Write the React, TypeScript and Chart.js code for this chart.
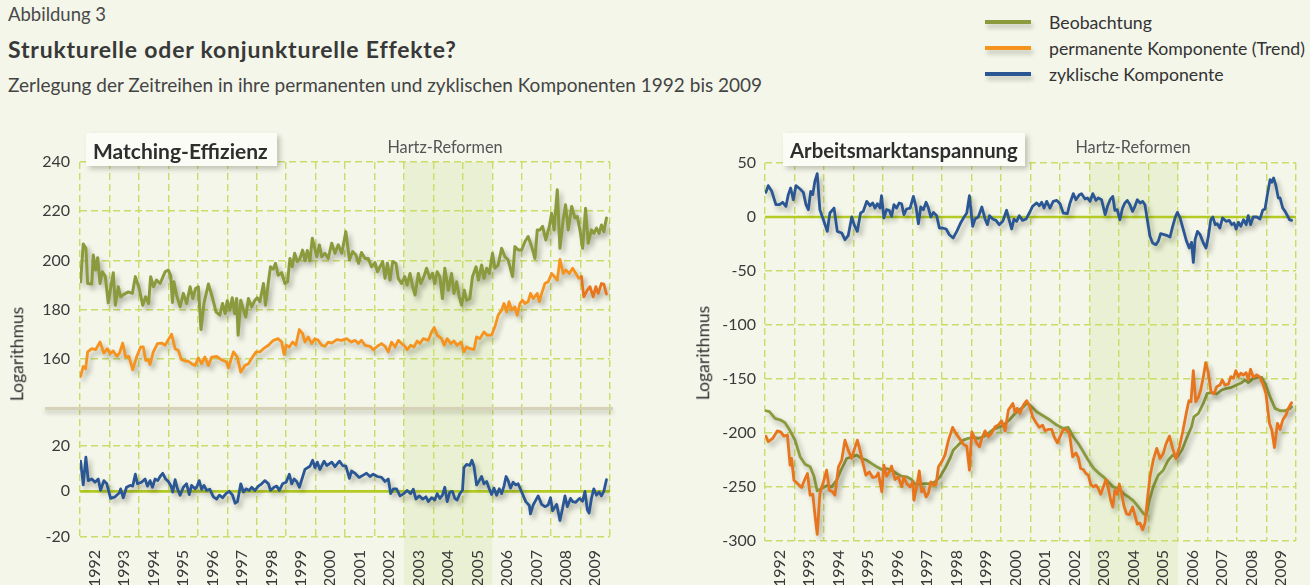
import React, { useEffect, useRef } from "react";
import { Chart, registerables } from "chart.js";

Chart.register(...registerables);

// ---------------- data ----------------
const YEAR_LABELS = ["1992", "1993", "1994", "1995", "1996", "1997", "1998", "1999", "2000", "2001", "2002", "2003", "2004", "2005", "2006", "2007", "2008", "2009"];
const HARTZ_START = 2003;
const HARTZ_END = 2006;

const LEGEND_LABELS = ["Beobachtung", "permanente Komponente (Trend)", "zyklische Komponente"];

// Matching-Effizienz: Beobachtung
const matchObsYears = [
  1992.02, 1992.11, 1992.20, 1992.26, 1992.40, 1992.45, 1992.53, 1992.60, 1992.68, 1992.76,
  1992.86, 1992.96, 1993.05, 1993.13, 1993.20, 1993.30, 1993.38, 1993.49, 1993.64, 1993.78,
  1993.88, 1994.01, 1994.13, 1994.23, 1994.33, 1994.40, 1994.49, 1994.60, 1994.72, 1994.81,
  1994.89, 1995.00, 1995.08, 1995.14, 1995.19, 1995.28, 1995.40, 1995.51, 1995.62, 1995.74,
  1995.83, 1995.93, 1996.02, 1996.11, 1996.21, 1996.36, 1996.49, 1996.62, 1996.75, 1996.84,
  1996.93, 1997.00, 1997.09, 1997.17, 1997.25, 1997.32, 1997.37, 1997.46, 1997.55, 1997.63,
  1997.72, 1997.83, 1997.94, 1998.02, 1998.11, 1998.23, 1998.30, 1998.40, 1998.47, 1998.56,
  1998.64, 1998.73, 1998.85, 1998.96, 1999.05, 1999.13, 1999.21, 1999.29, 1999.38, 1999.47,
  1999.56, 1999.64, 1999.72, 1999.81, 1999.89, 2000.04, 2000.13, 2000.21, 2000.32, 2000.43,
  2000.55, 2000.66, 2000.77, 2000.89, 2001.03, 2001.15, 2001.26, 2001.37, 2001.46, 2001.56,
  2001.68, 2001.79, 2001.90, 2002.02, 2002.10, 2002.19, 2002.28, 2002.36, 2002.44, 2002.53,
  2002.62, 2002.73, 2002.81, 2002.92, 2003.03, 2003.11, 2003.21, 2003.30, 2003.38, 2003.49,
  2003.57, 2003.68, 2003.77, 2003.88, 2003.97, 2004.05, 2004.13, 2004.22, 2004.31, 2004.39,
  2004.51, 2004.62, 2004.70, 2004.79, 2004.88, 2004.96, 2005.05, 2005.13, 2005.24, 2005.33,
  2005.45, 2005.53, 2005.64, 2005.72, 2005.81, 2005.90, 2006.01, 2006.09, 2006.20, 2006.32,
  2006.43, 2006.54, 2006.69, 2006.77, 2006.88, 2007.00, 2007.11, 2007.22, 2007.34, 2007.45,
  2007.53, 2007.62, 2007.71, 2007.82, 2007.94, 2008.02, 2008.10, 2008.21, 2008.30, 2008.41,
  2008.49, 2008.58, 2008.70, 2008.81, 2008.89, 2008.98, 2009.07, 2009.17, 2009.26, 2009.37,
  2009.45, 2009.54, 2009.63, 2009.71, 2009.79, 2009.88,
];
const matchObsValues = [
  191.3, 206.7, 204.9, 190.6, 190.4, 202.2, 196.1, 201.1, 190.6, 195.4,
  193.4, 182.7, 189.3, 195.0, 181.8, 189.3, 185.2, 186.2, 187.2, 186.6,
  193.4, 188.6, 181.8, 185.2, 182.5, 193.4, 189.3, 192.0, 190.6, 193.1,
  195.4, 196.1, 193.8, 182.9, 191.3, 185.9, 181.1, 186.6, 182.5, 189.3,
  184.5, 188.6, 189.3, 171.9, 182.5, 190.4, 185.2, 179.1, 177.7, 182.5,
  178.4, 183.6, 179.8, 184.8, 178.4, 184.5, 169.6, 183.8, 179.8, 177.0,
  184.5, 181.1, 183.8, 184.8, 183.2, 190.6, 181.8, 191.3, 197.4, 196.4,
  198.8, 194.0, 195.0, 190.6, 191.3, 200.8, 197.4, 202.9, 199.5, 200.8,
  204.2, 199.9, 204.0, 199.8, 209.0, 201.5, 206.3, 201.5, 202.9, 200.8,
  207.0, 202.9, 206.3, 202.9, 211.7, 200.2, 203.6, 202.2, 198.8, 203.2,
  200.8, 200.8, 197.4, 199.1, 195.4, 197.4, 199.5, 192.7, 198.8, 192.0,
  199.5, 198.8, 192.7, 190.6, 193.4, 190.0, 194.7, 189.3, 185.9, 194.7,
  190.6, 193.4, 196.8, 192.7, 194.7, 190.6, 195.4, 193.4, 184.5, 196.8,
  187.9, 194.7, 186.6, 191.3, 185.2, 181.8, 187.9, 183.8, 184.5, 193.4,
  197.4, 192.0, 198.1, 192.7, 196.8, 194.7, 202.9, 196.8, 198.1, 204.9,
  201.5, 200.2, 193.4, 205.6, 204.2, 204.2, 207.6, 209.7, 205.6, 200.8,
  212.4, 212.4, 213.8, 208.3, 213.8, 219.2, 212.4, 228.7, 204.9, 216.5,
  222.6, 212.4, 221.9, 217.2, 217.8, 212.4, 204.9, 221.2, 207.0, 212.4,
  211.0, 213.1, 211.0, 214.4, 211.7, 217.2,
];

// Matching-Effizienz: permanente Komponente
const matchTrendYears = [
  1992.02, 1992.11, 1992.19, 1992.26, 1992.40, 1992.53, 1992.68, 1992.81, 1992.93, 1993.02,
  1993.13, 1993.25, 1993.34, 1993.45, 1993.55, 1993.66, 1993.79, 1993.92, 1994.06, 1994.15,
  1994.23, 1994.32, 1994.38, 1994.49, 1994.63, 1994.77, 1994.89, 1995.00, 1995.11, 1995.23,
  1995.34, 1995.45, 1995.57, 1995.68, 1995.79, 1995.91, 1996.02, 1996.13, 1996.24, 1996.36,
  1996.47, 1996.64, 1996.81, 1996.98, 1997.04, 1997.21, 1997.34, 1997.46, 1997.60, 1997.72,
  1997.86, 1997.98, 1998.11, 1998.23, 1998.40, 1998.57, 1998.73, 1998.85, 1998.93, 1999.00,
  1999.11, 1999.22, 1999.33, 1999.45, 1999.56, 1999.64, 1999.75, 1999.87, 1999.98, 2000.09,
  2000.21, 2000.32, 2000.43, 2000.55, 2000.72, 2000.89, 2001.05, 2001.22, 2001.34, 2001.45,
  2001.56, 2001.68, 2001.85, 2001.96, 2002.10, 2002.24, 2002.36, 2002.47, 2002.58, 2002.70,
  2002.81, 2002.92, 2003.03, 2003.11, 2003.23, 2003.34, 2003.45, 2003.54, 2003.66, 2003.83,
  2003.94, 2004.03, 2004.13, 2004.28, 2004.37, 2004.47, 2004.59, 2004.70, 2004.81, 2004.94,
  2005.04, 2005.13, 2005.24, 2005.38, 2005.47, 2005.58, 2005.72, 2005.83, 2005.98, 2006.09,
  2006.20, 2006.32, 2006.40, 2006.49, 2006.57, 2006.66, 2006.77, 2006.85, 2006.94, 2007.03,
  2007.11, 2007.22, 2007.30, 2007.39, 2007.53, 2007.60, 2007.68, 2007.79, 2007.90, 2008.02,
  2008.11, 2008.21, 2008.30, 2008.41, 2008.50, 2008.62, 2008.73, 2008.84, 2008.94, 2009.03,
  2009.11, 2009.23, 2009.32, 2009.43, 2009.52, 2009.60, 2009.71, 2009.79, 2009.88,
];
const matchTrendValues = [
  152.8, 156.9, 155.9, 162.8, 164.1, 163.7, 166.8, 162.3, 164.1, 162.1,
  163.2, 161.0, 162.3, 166.4, 160.7, 161.0, 155.5, 160.7, 164.8, 164.8,
  159.4, 159.6, 157.7, 162.8, 166.2, 166.4, 165.5, 167.8, 170.0, 164.1,
  163.4, 159.6, 159.1, 159.0, 158.0, 157.3, 160.4, 158.0, 160.7, 157.3,
  160.7, 161.0, 159.6, 158.7, 156.2, 162.8, 160.7, 154.6, 157.3, 158.0,
  160.7, 162.8, 162.8, 164.1, 165.5, 167.5, 168.2, 166.8, 161.8, 165.5,
  164.8, 166.8, 165.5, 171.9, 170.2, 166.8, 168.9, 166.2, 168.2, 167.5,
  165.5, 165.1, 166.8, 166.4, 167.8, 167.5, 168.2, 166.8, 167.5, 166.2,
  167.5, 165.5, 165.1, 163.7, 165.1, 166.2, 165.1, 162.8, 166.8, 164.8,
  167.5, 166.2, 165.1, 163.7, 165.5, 164.8, 167.2, 166.2, 168.2, 167.5,
  170.9, 172.7, 169.6, 168.2, 165.5, 168.2, 166.2, 167.2, 165.5, 166.8,
  162.8, 164.8, 164.1, 163.7, 168.9, 168.2, 170.9, 169.6, 169.6, 173.0,
  177.7, 179.8, 182.5, 179.1, 183.2, 179.8, 181.1, 177.7, 182.5, 183.8,
  182.5, 183.2, 186.6, 184.5, 186.6, 183.2, 186.6, 190.6, 191.3, 194.7,
  193.4, 192.0, 200.4, 194.7, 196.1, 194.7, 196.8, 194.7, 192.7, 193.4,
  185.2, 187.9, 189.3, 185.2, 189.3, 186.6, 190.6, 190.4, 186.3,
];

// Matching-Effizienz: zyklische Komponente
const matchCycleYears = [
  1992.02, 1992.11, 1992.20, 1992.28, 1992.40, 1992.51, 1992.62, 1992.70, 1992.81, 1992.91,
  1993.04, 1993.19, 1993.34, 1993.38, 1993.47, 1993.58, 1993.70, 1993.79, 1993.88, 1993.95,
  1994.09, 1994.21, 1994.29, 1994.38, 1994.46, 1994.55, 1994.64, 1994.72, 1994.81, 1994.91,
  1995.00, 1995.08, 1995.15, 1995.23, 1995.31, 1995.40, 1995.51, 1995.62, 1995.71, 1995.79,
  1995.91, 1995.98, 1996.05, 1996.13, 1996.21, 1996.30, 1996.41, 1996.53, 1996.64, 1996.73,
  1996.84, 1996.96, 1997.07, 1997.18, 1997.27, 1997.35, 1997.46, 1997.55, 1997.64, 1997.75,
  1997.83, 1997.94, 1998.06, 1998.17, 1998.28, 1998.40, 1998.47, 1998.59, 1998.68, 1998.77,
  1998.88, 1999.00, 1999.11, 1999.19, 1999.27, 1999.36, 1999.45, 1999.64, 1999.81, 1999.90,
  1999.98, 2000.06, 2000.15, 2000.29, 2000.38, 2000.55, 2000.66, 2000.81, 2000.92, 2001.03,
  2001.15, 2001.22, 2001.34, 2001.48, 2001.62, 2001.73, 2001.85, 2001.96, 2002.10, 2002.24,
  2002.36, 2002.47, 2002.55, 2002.64, 2002.75, 2002.87, 2003.00, 2003.11, 2003.23, 2003.32,
  2003.41, 2003.52, 2003.64, 2003.75, 2003.83, 2003.94, 2004.05, 2004.13, 2004.22, 2004.31,
  2004.39, 2004.47, 2004.56, 2004.65, 2004.73, 2004.81, 2004.90, 2004.99, 2005.04, 2005.13,
  2005.24, 2005.31, 2005.38, 2005.47, 2005.56, 2005.64, 2005.72, 2005.81, 2005.90, 2005.98,
  2006.06, 2006.15, 2006.24, 2006.32, 2006.40, 2006.47, 2006.54, 2006.62, 2006.71, 2006.80,
  2006.88, 2007.00, 2007.14, 2007.26, 2007.30, 2007.39, 2007.56, 2007.68, 2007.79, 2007.90,
  2007.98, 2008.05, 2008.19, 2008.30, 2008.39, 2008.47, 2008.55, 2008.66, 2008.73, 2008.84,
  2008.96, 2009.07, 2009.15, 2009.23, 2009.29, 2009.37, 2009.45, 2009.54, 2009.63, 2009.71,
  2009.79, 2009.88,
];
const matchCycleValues = [
  13.2, 2.8, 15.0, 4.7, 5.4, 4.0, 5.4, 0.4, 4.7, 3.3,
  -3.1, -2.4, -0.6, 1.1, -2.8, 1.8, 2.6, 2.3, 7.5, 3.3,
  4.0, 5.4, 2.3, 4.7, 1.8, 5.4, 4.7, 6.5, 7.9, 5.4,
  4.3, 2.6, -0.3, 5.1, 1.1, -1.7, 1.8, 3.3, -1.4, 2.6,
  1.1, 2.3, 4.7, 0.9, 2.6, 0.4, 0.9, -2.4, -3.4, -1.7,
  -2.8, -1.0, 0.0, -1.7, -5.2, -4.5, 3.3, -0.3, 1.1, 0.4,
  1.8, 0.4, 2.3, 3.3, 4.7, 3.3, 0.4, 1.8, 2.3, 0.4,
  3.3, 4.0, 7.5, 3.3, 5.4, 4.3, 1.8, 9.6, 11.0, 13.6,
  10.4, 12.8, 9.6, 13.2, 11.3, 12.8, 10.8, 13.2, 11.3, 11.0,
  5.7, 8.9, 7.9, 6.1, 7.1, 7.9, 6.5, 7.5, 6.5, 6.1,
  4.3, 5.4, -1.0, 1.1, 1.1, -2.0, -1.0, 0.4, -1.0, 0.9,
  -3.4, -2.0, -3.4, -2.4, -4.5, -2.8, -3.8, -1.0, -3.1, -1.7,
  1.8, -4.5, -0.3, 0.0, -3.1, -3.8, -1.0, 0.4, 10.4, 11.8,
  11.3, 13.6, 11.0, 2.8, 4.7, 6.5, 3.3, 4.3, 1.1, -1.4,
  1.4, -1.7, 1.1, -1.0, 2.3, 6.5, 4.7, 1.4, 4.0, 2.8,
  3.3, -0.3, -4.5, -6.2, -9.9, -6.0, -2.0, -5.7, -6.7, -6.0,
  -2.8, -8.5, -5.7, -12.8, -7.4, -2.0, -6.7, -3.1, -4.5, -4.8,
  -3.1, -4.3, 0.0, -8.1, -9.5, -3.1, 1.1, -1.7, -0.3, -2.0,
  0.0, 5.1,
];

// Arbeitsmarktanspannung: Beobachtung
const tensionObsYears = [
  1992.03, 1992.15, 1992.34, 1992.53, 1992.68, 1992.85, 1993.02, 1993.19, 1993.36, 1993.53,
  1993.66, 1993.77, 1993.92, 1994.09, 1994.26, 1994.43, 1994.60, 1994.77, 1994.94, 1995.11,
  1995.28, 1995.45, 1995.62, 1995.79, 1995.96, 1996.12, 1996.29, 1996.46, 1996.63, 1996.80,
  1996.97, 1997.09, 1997.26, 1997.42, 1997.59, 1997.76, 1997.93, 1998.10, 1998.27, 1998.38,
  1998.55, 1998.72, 1998.89, 1999.06, 1999.23, 1999.40, 1999.57, 1999.74, 1999.91, 2000.08,
  2000.28, 2000.53, 2000.76, 2000.89, 2001.04, 2001.21, 2001.44, 2001.66, 2001.89, 2002.11,
  2002.28, 2002.45, 2002.62, 2002.79, 2002.96, 2003.13, 2003.30, 2003.47, 2003.64, 2003.81,
  2003.98, 2004.15, 2004.32, 2004.49, 2004.66, 2004.83, 2004.92, 2005.03, 2005.16, 2005.33,
  2005.50, 2005.67, 2005.82, 2005.96, 2006.13, 2006.29, 2006.46, 2006.54, 2006.69, 2006.86,
  2006.99, 2007.14, 2007.31, 2007.48, 2007.65, 2007.82, 2007.99, 2008.16, 2008.27, 2008.38,
  2008.55, 2008.72, 2008.84, 2008.95, 2009.12, 2009.29, 2009.46, 2009.63, 2009.80, 2009.85,
];
const tensionObsValues = [
  -179.4, -180.3, -186.5, -188.0, -190.5, -198.0, -206.6, -222.0, -228.9, -231.3,
  -240.0, -253.6, -251.4, -248.7, -249.9, -243.7, -232.9, -223.6, -222.1, -220.5,
  -223.6, -225.2, -228.3, -231.3, -233.8, -232.9, -234.4, -237.5, -240.0, -240.6,
  -243.1, -247.4, -247.4, -246.8, -246.8, -245.3, -240.6, -232.9, -223.6, -215.9,
  -211.2, -206.6, -205.0, -204.1, -205.0, -203.5, -200.4, -196.7, -194.8, -192.7,
  -188.0, -180.3, -175.7, -172.0, -175.7, -180.3, -184.3, -188.0, -192.7, -195.8,
  -194.8, -203.5, -209.7, -217.4, -225.2, -232.3, -236.9, -240.6, -245.3, -249.9,
  -251.4, -256.1, -259.2, -262.9, -268.5, -274.6, -276.2, -262.3, -249.9, -239.1,
  -234.4, -225.2, -220.5, -222.7, -215.9, -205.0, -194.2, -185.0, -181.9, -172.6,
  -163.3, -162.7, -163.9, -160.2, -158.7, -157.7, -155.6, -153.4, -150.9, -153.4,
  -149.4, -148.5, -148.5, -154.0, -166.4, -177.2, -179.4, -179.4, -177.2, -175.7,
];

// Arbeitsmarktanspannung: permanente Komponente
const tensionTrendYears = [
  1992.03, 1992.11, 1992.26, 1992.42, 1992.53, 1992.64, 1992.76, 1992.85, 1992.90, 1992.98,
  1993.10, 1993.24, 1993.36, 1993.44, 1993.53, 1993.62, 1993.70, 1993.77, 1993.86, 1993.98,
  1994.09, 1994.18, 1994.29, 1994.37, 1994.49, 1994.60, 1994.71, 1994.82, 1994.94, 1995.02,
  1995.13, 1995.22, 1995.31, 1995.42, 1995.54, 1995.65, 1995.76, 1995.84, 1995.96, 1996.03,
  1996.12, 1996.21, 1996.29, 1996.41, 1996.52, 1996.63, 1996.71, 1996.80, 1996.92, 1997.01,
  1997.05, 1997.14, 1997.23, 1997.31, 1997.37, 1997.46, 1997.54, 1997.62, 1997.71, 1997.80,
  1997.88, 1997.99, 1998.10, 1998.22, 1998.36, 1998.47, 1998.59, 1998.72, 1998.84, 1998.93,
  1999.01, 1999.09, 1999.18, 1999.27, 1999.35, 1999.46, 1999.57, 1999.68, 1999.80, 1999.91,
  2000.02, 2000.14, 2000.25, 2000.40, 2000.48, 2000.55, 2000.64, 2000.76, 2000.87, 2000.98,
  2001.07, 2001.19, 2001.30, 2001.41, 2001.49, 2001.60, 2001.72, 2001.80, 2001.91, 2002.00,
  2002.11, 2002.23, 2002.32, 2002.43, 2002.54, 2002.62, 2002.70, 2002.79, 2002.88, 2002.96,
  2003.04, 2003.13, 2003.22, 2003.30, 2003.38, 2003.47, 2003.56, 2003.64, 2003.72, 2003.79,
  2003.86, 2003.94, 2004.01, 2004.09, 2004.17, 2004.26, 2004.35, 2004.46, 2004.54, 2004.62,
  2004.71, 2004.80, 2004.88, 2004.96, 2005.05, 2005.16, 2005.28, 2005.39, 2005.50, 2005.59,
  2005.71, 2005.82, 2005.93, 2006.05, 2006.16, 2006.29, 2006.37, 2006.44, 2006.52, 2006.60,
  2006.69, 2006.77, 2006.86, 2006.94, 2007.03, 2007.12, 2007.22, 2007.31, 2007.42, 2007.50,
  2007.59, 2007.71, 2007.79, 2007.88, 2007.96, 2008.05, 2008.13, 2008.22, 2008.31, 2008.38,
  2008.46, 2008.55, 2008.67, 2008.76, 2008.87, 2008.98, 2009.10, 2009.18, 2009.27, 2009.37,
  2009.46, 2009.55, 2009.66, 2009.74, 2009.85,
];
const tensionTrendValues = [
  -202.9, -208.1, -205.0, -198.0, -198.9, -202.9, -202.0, -229.8, -223.6, -243.7,
  -246.8, -250.5, -242.2, -237.5, -257.6, -256.7, -277.7, -293.8, -256.1, -245.3,
  -234.4, -253.0, -254.5, -257.6, -231.3, -225.2, -206.6, -215.9, -223.6, -215.9,
  -206.6, -215.9, -226.7, -239.1, -236.0, -241.2, -240.6, -236.9, -254.5, -229.8,
  -240.0, -236.0, -230.7, -243.1, -240.6, -249.9, -240.6, -246.8, -249.9, -245.3,
  -262.3, -249.9, -235.0, -254.5, -251.4, -259.2, -255.5, -245.3, -248.4, -247.4,
  -231.3, -226.7, -220.5, -206.6, -194.8, -200.4, -205.0, -210.3, -212.2, -234.4,
  -198.9, -203.5, -209.7, -212.8, -205.0, -198.0, -203.5, -200.4, -194.2, -192.7,
  -188.7, -198.0, -178.8, -172.6, -181.2, -177.2, -181.9, -174.1, -170.1, -175.7,
  -184.9, -190.5, -194.8, -192.7, -198.0, -196.7, -196.7, -203.5, -209.1, -203.5,
  -196.7, -197.3, -200.4, -222.1, -218.4, -222.7, -232.9, -233.8, -237.5, -239.1,
  -247.4, -249.9, -248.4, -251.4, -256.7, -249.9, -243.1, -251.4, -262.3, -268.5,
  -253.0, -256.7, -247.4, -256.1, -267.9, -275.0, -275.6, -268.5, -276.3, -284.3,
  -283.4, -289.6, -283.4, -262.3, -240.6, -225.2, -214.3, -223.6, -219.0, -210.3,
  -202.9, -214.3, -223.6, -212.8, -198.9, -180.3, -170.1, -171.0, -142.3, -171.0,
  -167.0, -160.2, -147.8, -134.8, -144.7, -161.8, -163.9, -157.1, -155.6, -150.9,
  -155.6, -154.6, -147.8, -149.4, -142.3, -147.8, -144.7, -146.3, -144.1, -150.3,
  -141.0, -148.5, -146.3, -147.8, -154.0, -163.3, -191.1, -197.3, -213.4, -191.1,
  -196.7, -188.0, -183.4, -177.2, -172.0,
];

// Arbeitsmarktanspannung: zyklische Komponente
const tensionCycleYears = [
  1992.03, 1992.11, 1992.23, 1992.37, 1992.49, 1992.60, 1992.71, 1992.79, 1992.87, 1992.96,
  1993.05, 1993.19, 1993.30, 1993.39, 1993.47, 1993.55, 1993.62, 1993.69, 1993.77, 1993.86,
  1993.98, 1994.11, 1994.20, 1994.34, 1994.45, 1994.60, 1994.71, 1994.82, 1994.94, 1995.02,
  1995.13, 1995.24, 1995.33, 1995.45, 1995.56, 1995.65, 1995.73, 1995.81, 1995.90, 1995.95,
  1996.03, 1996.12, 1996.21, 1996.29, 1996.37, 1996.46, 1996.55, 1996.63, 1996.71, 1996.80,
  1996.92, 1997.03, 1997.12, 1997.20, 1997.28, 1997.37, 1997.46, 1997.54, 1997.62, 1997.71,
  1997.82, 1997.91, 1998.02, 1998.14, 1998.25, 1998.38, 1998.50, 1998.63, 1998.75, 1998.84,
  1998.93, 1999.04, 1999.12, 1999.23, 1999.35, 1999.46, 1999.54, 1999.61, 1999.72, 1999.83,
  1999.94, 2000.06, 2000.19, 2000.28, 2000.36, 2000.44, 2000.53, 2000.62, 2000.73, 2000.85,
  2000.96, 2001.07, 2001.21, 2001.30, 2001.38, 2001.46, 2001.55, 2001.66, 2001.77, 2001.89,
  2002.00, 2002.11, 2002.25, 2002.34, 2002.45, 2002.54, 2002.66, 2002.73, 2002.85, 2002.93,
  2003.02, 2003.11, 2003.22, 2003.30, 2003.41, 2003.53, 2003.61, 2003.70, 2003.79, 2003.86,
  2003.94, 2004.03, 2004.12, 2004.20, 2004.28, 2004.37, 2004.46, 2004.54, 2004.62, 2004.71,
  2004.80, 2004.88, 2004.96, 2005.05, 2005.14, 2005.25, 2005.33, 2005.41, 2005.53, 2005.64,
  2005.73, 2005.82, 2005.91, 2005.98, 2006.07, 2006.18, 2006.29, 2006.38, 2006.46, 2006.52,
  2006.58, 2006.66, 2006.75, 2006.86, 2006.95, 2007.03, 2007.11, 2007.18, 2007.26, 2007.33,
  2007.42, 2007.51, 2007.63, 2007.74, 2007.82, 2007.90, 2007.97, 2008.05, 2008.13, 2008.22,
  2008.31, 2008.38, 2008.46, 2008.55, 2008.67, 2008.78, 2008.87, 2008.95, 2009.03, 2009.12,
  2009.18, 2009.24, 2009.32, 2009.40, 2009.46, 2009.55, 2009.63, 2009.71, 2009.78, 2009.85,
];
const tensionCycleValues = [
  22.8, 29.0, 23.8, 11.4, 11.4, 13.6, 9.9, 20.7, 26.8, 16.0,
  29.0, 25.9, 22.8, 11.4, 6.8, 23.8, 20.7, 33.0, 40.1, 6.8,
  -2.5, -13.3, 3.7, 8.3, -13.3, -14.8, -21.0, -17.3, 0.0, -7.1,
  -13.3, 3.7, 5.2, 14.5, 10.5, 13.0, 8.3, 12.3, 8.3, 19.8,
  -0.9, 6.8, 6.2, 0.6, 11.4, 8.3, 13.0, 12.3, 2.2, 7.4,
  8.3, 19.1, 9.3, -6.2, 9.3, 6.8, 13.6, 8.3, 0.0, 4.3,
  1.2, -10.2, -10.2, -11.1, -16.4, -19.4, -13.3, -5.6, 0.0, 3.7,
  19.8, -8.6, -1.9, 0.0, 9.3, -1.9, -7.1, 1.2, -1.9, -3.1,
  -7.1, -4.0, 6.2, -3.1, -11.1, -1.9, -4.0, 1.2, -3.1, -1.9,
  3.7, 9.9, 13.0, 10.5, 13.6, 8.3, 14.5, 8.3, 14.5, 15.4,
  12.3, 3.7, 3.1, 13.0, 21.6, 16.0, 20.7, 21.6, 16.7, 17.6,
  14.5, 21.6, 15.4, 17.6, 16.0, 2.2, 9.9, 16.0, 19.1, 6.2,
  6.8, -2.5, 8.3, 13.0, 15.4, 11.4, 5.2, 9.9, 16.0, 13.0,
  14.5, 11.4, -2.5, -17.9, -24.1, -25.6, -22.5, -15.4, -16.4, -17.3,
  -18.5, -8.6, 0.0, 4.3, -0.9, -11.7, -22.5, -28.7, -23.5, -42.0,
  -21.0, -13.3, -16.4, -24.1, -28.7, -17.9, -2.5, 0.0, -7.1, -6.2,
  -10.2, -0.9, -4.0, -3.1, -7.1, -5.6, -11.1, -4.9, -8.6, -2.5,
  -7.1, 1.2, -7.1, 0.0, 0.0, -1.9, 6.2, 7.4, 20.7, 34.6,
  32.1, 36.1, 29.0, 17.6, 17.6, 8.3, 5.2, 1.2, -2.5, -3.1,
];

// axis ticks
const MATCH_TOP_TICKS = [140, 160, 180, 200, 220, 240];
const MATCH_BOTTOM_TICKS = [-20, 0, 20];
const TENSION_TICKS = [-300, -250, -200, -150, -100, -50, 0, 50];

// ---------------- styling ----------------
const FONT = "Lato, 'Open Sans', 'DejaVu Sans', sans-serif";
const BG = "#f4f6ea";
const GRID = "#cbdc68";
const ZERO = "#b3cb22";
const SHADE = "#e9f0d3";
const TXT = "#3a3a3a";
const GREEN = "#8b9a3c";
const ORANGE = "#f6931f";
const ORANGE_DARK = "#e8751d";
const BLUE = "#2a5794";

const pts = (xs: number[], ys: number[]) => xs.map((x, i) => ({ x, y: ys[i] }));

const zeroPads = (s: any) => {
  s.paddingLeft = 0;
  s.paddingRight = 0;
  s.paddingTop = 0;
  s.paddingBottom = 0;
};

function xScale(showLabels: boolean, height: number, labelPad: number) {
  return {
    type: "linear",
    min: 1992,
    max: 2010,
    afterBuildTicks: (s: any) => {
      s.ticks = YEAR_LABELS.map((y) => ({ value: Number(y) + 0.5 }));
    },
    afterFit: (s: any) => {
      s.height = height;
      zeroPads(s);
    },
    grid: { offset: true, color: GRID, lineWidth: 1.4, drawTicks: false },
    border: { display: false, dash: [7, 4] },
    ticks: {
      display: showLabels,
      autoSkip: false,
      minRotation: 90,
      maxRotation: 90,
      padding: labelPad,
      color: TXT,
      font: { family: FONT, size: 16 },
      callback: (v: number) => String(Math.floor(v)),
    },
  };
}

function yScale(min: number, max: number, ticks: number[], hidden: number[], width: number, pad: number) {
  return {
    type: "linear",
    min,
    max,
    afterBuildTicks: (s: any) => {
      s.ticks = ticks.map((v) => ({ value: v }));
    },
    afterFit: (s: any) => {
      s.width = width;
      zeroPads(s);
    },
    grid: {
      color: (c: any) =>
        c.tick && (c.tick.value === 0 || hidden.includes(c.tick.value)) ? "rgba(0,0,0,0)" : GRID,
      lineWidth: 1.4,
      drawTicks: false,
    },
    border: { display: false, dash: [7, 4] },
    ticks: {
      padding: pad,
      color: TXT,
      font: { family: FONT, size: 16 },
      callback: (v: number) => (hidden.includes(v) ? "" : String(v)),
    },
  };
}

function decorPlugin(zeroLine: boolean) {
  return {
    id: "decor",
    beforeDraw(chart: any) {
      const { ctx, chartArea, scales } = chart;
      const a = scales.x.getPixelForValue(HARTZ_START);
      const b = scales.x.getPixelForValue(HARTZ_END);
      ctx.save();
      ctx.fillStyle = SHADE;
      ctx.fillRect(a, chartArea.top, b - a, chart.height - chartArea.top);
      ctx.restore();
    },
    beforeDatasetsDraw(chart: any) {
      if (!zeroLine) return;
      const { ctx, chartArea, scales } = chart;
      const y = scales.y.getPixelForValue(0);
      ctx.save();
      ctx.strokeStyle = ZERO;
      ctx.lineWidth = 2.6;
      ctx.beginPath();
      ctx.moveTo(chartArea.left, y);
      ctx.lineTo(chartArea.right, y);
      ctx.stroke();
      ctx.restore();
    },
    beforeDatasetDraw(chart: any) {
      const ctx = chart.ctx;
      ctx.save();
      ctx.shadowColor = "rgba(40,40,20,0.32)";
      ctx.shadowBlur = 5;
      ctx.shadowOffsetX = 3;
      ctx.shadowOffsetY = 4;
    },
    afterDatasetDraw(chart: any) {
      chart.ctx.restore();
    },
  };
}

function lineDs(label: string, data: { x: number; y: number }[], color: string, width: number, extra: any = {}) {
  return {
    label,
    data,
    borderColor: color,
    backgroundColor: color,
    borderWidth: width,
    pointRadius: 0,
    pointHoverRadius: 0,
    tension: 0,
    fill: false,
    borderJoinStyle: "round",
    borderCapStyle: "round",
    ...extra,
  };
}

function baseOptions(pad: { top: number; right: number }, scales: any) {
  return {
    responsive: false,
    animation: false,
    devicePixelRatio: 1,
    events: [],
    layout: { padding: { left: 0, right: pad.right, top: pad.top, bottom: 0 } },
    plugins: { legend: { display: false }, tooltip: { enabled: false } },
    scales,
  };
}

const makeMatchTop = () => ({
  type: "line",
  data: {
    datasets: [
      lineDs(LEGEND_LABELS[0], pts(matchObsYears, matchObsValues), GREEN, 3),
      lineDs(LEGEND_LABELS[1], pts(matchTrendYears, matchTrendValues), ORANGE, 2.8, {
        segment: {
          borderColor: (c: any) => (c.p0.parsed.x >= 2009.0 ? ORANGE_DARK : undefined),
        },
      }),
    ],
  },
  options: baseOptions({ top: 12, right: 10 }, {
    x: xScale(false, 0, 0),
    y: yScale(140, 240, MATCH_TOP_TICKS, [140], 80, 10),
  }),
  plugins: [decorPlugin(false)],
});

const makeMatchBottom = () => ({
  type: "line",
  data: {
    datasets: [lineDs(LEGEND_LABELS[2], pts(matchCycleYears, matchCycleValues), BLUE, 2.8)],
  },
  options: baseOptions({ top: 0, right: 10 }, {
    x: xScale(true, 48, 13),
    y: yScale(-20, 36.5, MATCH_BOTTOM_TICKS, [], 80, 10),
  }),
  plugins: [decorPlugin(true)],
});

const makeTension = () => ({
  type: "line",
  data: {
    datasets: [
      lineDs(LEGEND_LABELS[1], pts(tensionTrendYears, tensionTrendValues), ORANGE_DARK, 2.8),
      lineDs(LEGEND_LABELS[0], pts(tensionObsYears, tensionObsValues), GREEN, 2.8),
      lineDs(LEGEND_LABELS[2], pts(tensionCycleYears, tensionCycleValues), BLUE, 2.8),
    ],
  },
  options: baseOptions({ top: 13, right: 14 }, {
    x: xScale(true, 44, 9),
    y: yScale(-300, 50, TENSION_TICKS, [], 75, 9),
  }),
  plugins: [decorPlugin(true)],
});

function ChartBox(props: { left: number; top: number; width: number; height: number; make: () => any }) {
  const { left, top, width, height, make } = props;
  const ref = useRef<HTMLCanvasElement | null>(null);
  useEffect(() => {
    if (!ref.current) return;
    const chart = new Chart(ref.current, make());
    return () => chart.destroy();
  }, []);
  return (
    <div style={{ position: "absolute", left, top, width, height }}>
      <canvas ref={ref} width={width} height={height} style={{ display: "block", width, height }} />
    </div>
  );
}

const text = (extra: React.CSSProperties): React.CSSProperties => ({
  position: "absolute",
  fontFamily: FONT,
  lineHeight: 1,
  whiteSpace: "nowrap",
  color: TXT,
  ...extra,
});

function PanelTitle(props: { left: number; width: number; label: string; size: number }) {
  return (
    <div
      style={{
        position: "absolute",
        left: props.left,
        top: 133,
        width: props.width,
        height: 33,
        background: "#fbfcf6",
        boxShadow: "3px 3px 5px rgba(60,60,40,0.28)",
      }}
    >
      <div style={text({ left: 7, top: 7, fontSize: props.size, fontWeight: 700, color: "#2e2e2e" })}>{props.label}</div>
    </div>
  );
}

function LegendRow(props: { y: number; color: string; label: string }) {
  return (
    <>
      <div
        style={{
          position: "absolute",
          left: 985,
          top: props.y - 2,
          width: 46,
          height: 4,
          background: props.color,
          boxShadow: "2px 4px 4px rgba(60,60,40,0.25)",
        }}
      />
      <div style={text({ left: 1049, top: props.y - 8, fontSize: 17.7, color: "#333" })}>{props.label}</div>
    </>
  );
}

export default function App() {
  return (
    <div
      style={{
        position: "absolute",
        left: 0,
        top: 0,
        width: 1310,
        height: 585,
        overflow: "hidden",
        background: BG,
      }}
    >
      <div style={text({ left: 8, top: 4.5, fontSize: 18.5, color: "#4a4a4a" })}>Abbildung 3</div>
      <div style={text({ left: 8, top: 38, fontSize: 23, fontWeight: 700, letterSpacing: 0.8, color: "#383838" })}>
        Strukturelle oder konjunkturelle Effekte?
      </div>
      <div style={text({ left: 8, top: 75, fontSize: 19, color: "#444" })}>
        Zerlegung der Zeitreihen in ihre permanenten und zyklischen Komponenten 1992 bis 2009
      </div>

      <LegendRow y={22} color={GREEN} label={LEGEND_LABELS[0]} />
      <LegendRow y={48} color={ORANGE} label={LEGEND_LABELS[1]} />
      <LegendRow y={74} color={BLUE} label={LEGEND_LABELS[2]} />

      <ChartBox left={0} top={150} width={620} height={258} make={makeMatchTop} />
      <ChartBox left={0} top={408} width={620} height={177} make={makeMatchBottom} />
      <ChartBox left={690} top={150} width={620} height={435} make={makeTension} />

      <div
        style={{
          position: "absolute",
          left: 45,
          top: 406.5,
          width: 568,
          height: 3.5,
          background: "#d5d2b8",
          boxShadow: "0 3px 4px rgba(60,60,40,0.25)",
        }}
      />

      <PanelTitle left={86} width={191} label="Matching-Effizienz" size={21} />
      <PanelTitle left={783} width={242} label="Arbeitsmarktanspannung" size={20.3} />

      <div style={text({ left: 445, top: 139, fontSize: 16.3, color: "#555", transform: "translateX(-50%)" })}>
        Hartz-Reformen
      </div>
      <div style={text({ left: 1133, top: 139, fontSize: 16.3, color: "#555", transform: "translateX(-50%)" })}>
        Hartz-Reformen
      </div>

      <div
        style={text({
          left: 17,
          top: 354,
          fontSize: 17.5,
          color: "#333",
          transform: "translate(-50%, -50%) rotate(-90deg)",
        })}
      >
        Logarithmus
      </div>
      <div
        style={text({
          left: 703,
          top: 353,
          fontSize: 17.5,
          color: "#333",
          transform: "translate(-50%, -50%) rotate(-90deg)",
        })}
      >
        Logarithmus
      </div>
    </div>
  );
}
